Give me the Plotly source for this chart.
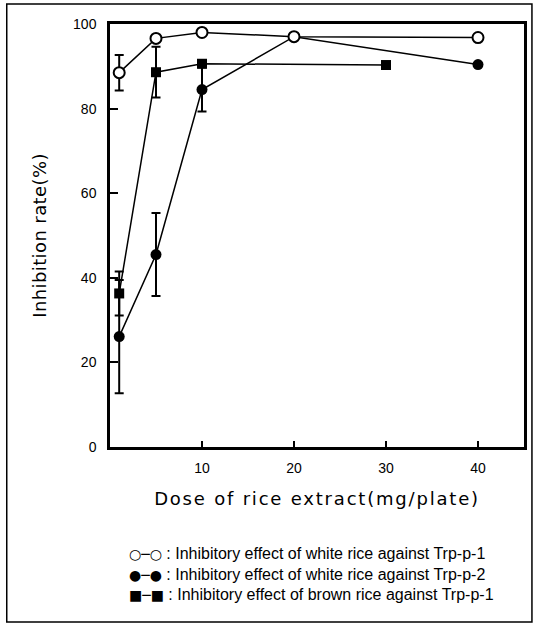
import plotly.graph_objects as go

# Dose (mg/plate)
dose_white1 = [1, 5, 10, 20, 40]
rate_white1 = [88.5, 96.6, 98.0, 97.0, 96.8]
err_white1 = [4.2, 0, 0, 0, 0]

dose_white2 = [1, 5, 10, 20, 40]
rate_white2 = [26.1, 45.5, 84.5, 97.0, 90.4]
err_white2 = [13.4, 9.8, 5.2, 0, 0]

dose_brown1 = [1, 5, 10, 30]
rate_brown1 = [36.3, 88.6, 90.6, 90.3]
err_brown1 = [5.2, 6.0, 0, 0]

x_ticks = [10, 20, 30, 40]
y_ticks = [0, 20, 40, 60, 80, 100]

names = [": Inhibitory effect of white rice against Trp-p-1",
         ": Inhibitory effect of white rice against Trp-p-2",
         ": Inhibitory effect of brown rice against Trp-p-1"]
glyphs = ["○─○", "●─●", "■─■"]

fig = go.Figure()

def errs(e):
    return dict(type="data", array=e, visible=True, color="black", thickness=2, width=4.5)

fig.add_trace(go.Scatter(x=dose_white2, y=rate_white2, name=names[1], mode="lines+markers",
                         line=dict(color="black", width=1.5),
                         marker=dict(symbol="circle", size=11, color="black"),
                         error_y=errs(err_white2)))
fig.add_trace(go.Scatter(x=dose_brown1, y=rate_brown1, name=names[2], mode="lines+markers",
                         line=dict(color="black", width=1.5),
                         marker=dict(symbol="square", size=10, color="black"),
                         error_y=errs(err_brown1)))
fig.add_trace(go.Scatter(x=dose_white1, y=rate_white1, name=names[0], mode="lines+markers",
                         line=dict(color="black", width=1.5),
                         marker=dict(symbol="circle", size=11, color="white",
                                     line=dict(color="black", width=2)),
                         error_y=errs(err_white1)))

L, R, T, B = 110, 10, 24, 177
W, H = 537, 624
pw, ph = W - L - R, H - T - B

def px(xp):
    return (xp - L) / pw

def py(yp):
    return (H - B - yp) / ph

annotations = []
row_y = [553, 574, 594]
for g, n, yy in zip(glyphs, names, row_y):
    annotations.append(dict(text='<span style="font-family:DejaVu Sans;font-size:14px">' + g + "</span> " + n,
                            x=px(127), y=py(yy), xref="paper", yref="paper",
                            xanchor="left", yanchor="middle", showarrow=False,
                            font=dict(family="Liberation Sans, Arial", size=16, color="black")))

fig.update_layout(
    width=W, height=H,
    margin=dict(l=L, r=R, t=T, b=B),
    paper_bgcolor="white", plot_bgcolor="white",
    showlegend=False,
    annotations=annotations,
    shapes=[dict(type="rect", xref="paper", yref="paper",
                 x0=px(6), x1=px(535), y0=py(622), y1=py(4),
                 line=dict(color="black", width=1.5))],
    xaxis=dict(range=[0, 45], tickvals=x_ticks, ticks="inside", ticklen=6, tickwidth=1.5,
               tickcolor="black", showline=True, linecolor="black", linewidth=2.5, mirror=True,
               showgrid=False, zeroline=False, ticklabelstandoff=6,
               tickfont=dict(family="Liberation Sans, Arial", size=14, color="black"),
               title=dict(text="Dose of rice extract(mg/plate)", standoff=18,
                          font=dict(family="DejaVu Sans", size=18, color="black"))),
    yaxis=dict(range=[0, 100], tickvals=y_ticks, ticks="inside", ticklen=8, tickwidth=1.5,
               tickcolor="black", showline=True, linecolor="black", linewidth=2.5, mirror=True,
               showgrid=False, zeroline=False, ticklabelstandoff=8,
               tickfont=dict(family="Liberation Sans, Arial", size=14, color="black"),
               title=dict(text="Inhibition rate(%)", standoff=22,
                          font=dict(family="DejaVu Sans", size=18, color="black"))),
)

post = """
var s = document.createElement('style');
s.innerHTML = 'html,body{margin:0;padding:0;} .xtitle{letter-spacing:1.8px;} .ytitle{letter-spacing:0.4px;}';
document.head.appendChild(s);
"""
fig.write_html("out.html", post_script=post, config={"displayModeBar": False})
